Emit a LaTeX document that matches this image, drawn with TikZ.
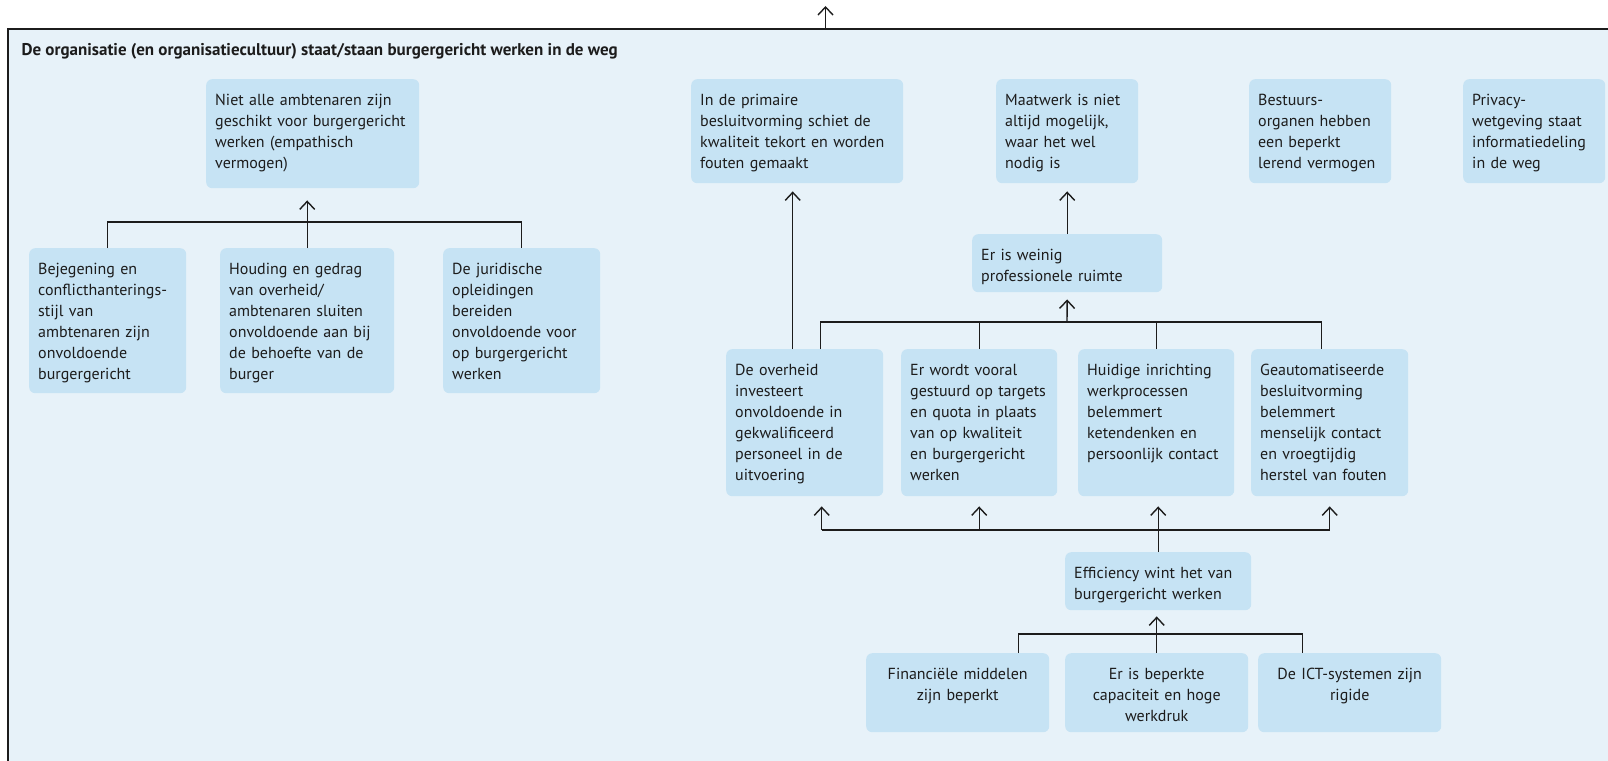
\documentclass[tikz,border=0pt]{standalone}
\usepackage{fontspec}
\setmainfont{PT Sans}
\usepackage{xcolor}
\usepackage{tikz}
\usetikzlibrary{arrows.meta,positioning,calc}
\definecolor{panelblue}{HTML}{E7F2F9}
\definecolor{boxblue}{HTML}{C6E3F4}
\definecolor{inkblack}{HTML}{1C1C1C}

\begin{document}
\begin{tikzpicture}[
    x=1pt,y=-1pt,
    >={Straight Barb[length=8pt,width=15pt]},
    every node/.style={font=\fontsize{16}{21}\selectfont,text=inkblack},
    cause/.style={fill=boxblue,rounded corners=6pt,anchor=north west,
                  inner xsep=9pt,inner ysep=0pt,align=left,text height=26pt},
    causec/.style={cause,align=center},
    link/.style={draw=inkblack,line width=1.4pt},
  ]
  \useasboundingbox (0,0) rectangle (1608,760);
  \node[fill=panelblue,minimum width=1610pt,minimum height=740pt,
        anchor=north west,inner sep=0pt] (panel) at (8,29) {};
  \draw[inkblack,line width=2pt] (panel.south west) -- (panel.north west) -- (panel.north east);
  \coordinate (out) at (825.5,6);
  \draw[link,->] (out |- panel.north) -- (out);

  \node[anchor=base west,font=\fontsize{17}{21}\selectfont\bfseries] (title) at (18,56)
    {De organisatie (en organisatiecultuur) staat/staan burgergericht werken in de weg};

  % linker tak
  \node[cause,text width=195pt,text depth=83pt] (niet) at (206,79)
    {Niet alle ambtenaren zijn\\geschikt voor burgergericht\\werken (empathisch\\vermogen)};
  \node[cause,text width=139pt,text depth=119pt] (bej) at (29,248)
    {Bejegening en\\conflicthanterings-\\stijl van\\ambtenaren zijn\\onvoldoende\\burgergericht};
  \node[cause,text width=156pt,text depth=119pt] (houd) at (220,248)
    {Houding en gedrag\\van overheid/\\ambtenaren sluiten\\onvoldoende aan bij\\de behoefte van de\\burger};
  \node[cause,text width=139pt,text depth=119pt] (jur) at (443,248)
    {De juridische\\opleidingen\\bereiden\\onvoldoende voor\\op burgergericht\\werken};

  % rechter tak
  \node[cause,text width=194pt,text depth=78pt] (prim) at (691,79)
    {In de primaire\\besluitvorming schiet de\\kwaliteit tekort en worden\\fouten gemaakt};
  \node[cause,text width=124pt,text depth=78pt] (maat) at (996,79)
    {Maatwerk is niet\\altijd mogelijk,\\waar het wel\\nodig is};
  \node[cause,text width=124pt,text depth=78pt] (best) at (1249,79)
    {Bestuurs-\\organen hebben\\een beperkt\\lerend vermogen};
  \node[cause,text width=124pt,text depth=78pt] (priv) at (1463,79)
    {Privacy-\\wetgeving staat\\informatiedeling\\in de weg};
  \node[cause,text width=172pt,text depth=32pt] (wein) at (972,234)
    {Er is weinig\\professionele ruimte};

  \node[cause,text width=139pt,text depth=121pt] (ovh) at (726,349)
    {De overheid\\investeert\\onvoldoende in\\gekwalificeerd\\personeel in de\\uitvoering};
  \node[cause,text width=138pt,text depth=121pt] (wvo) at (901,349)
    {Er wordt vooral\\\mbox{gestuurd op targets}\\en quota in plaats\\van op kwaliteit\\en burgergericht\\werken};
  \node[cause,text width=138pt,text depth=121pt] (hui) at (1078,349)
    {Huidige inrichting\\werkprocessen\\belemmert\\ketendenken en\\persoonlijk contact};
  \node[cause,text width=139pt,text depth=121pt] (gea) at (1251,349)
    {Geautomatiseerde\\besluitvorming\\belemmert\\menselijk contact\\en vroegtijdig\\herstel van fouten};

  \node[cause,text width=168pt,text depth=32pt] (eff) at (1065,552)
    {Efficiency wint het van\\burgergericht werken};
  \node[causec,text width=165pt,text depth=53pt] (fin) at (866,653)
    {Financiële middelen\\zijn beperkt};
  \node[causec,text width=165pt,text depth=53pt] (bep) at (1065,653)
    {Er is beperkte\\capaciteit en hoge\\werkdruk};
  \node[causec,text width=165pt,text depth=53pt] (ict) at (1258,653)
    {De ICT-systemen zijn\\rigide};

  % verbindingen links
  \coordinate (jL) at (307,222);
  \draw[link] (bej.north) |- (jL) -| (jur.north);
  \draw[link,->,shorten >=12pt] (houd.north) -- (houd.north |- niet.south);

  % verbindingen rechts
  \coordinate (ovhL) at ([xshift=-12pt]ovh.north);
  \coordinate (ovhR) at ([xshift=15.5pt]ovh.north);
  \coordinate (ovhB) at ([xshift=17pt]ovh.south);
  \coordinate (geaL) at ([xshift=-8.5pt]gea.north);
  \draw[link,->,shorten >=8pt] (ovhL) -- (ovhL |- prim.south);

  \coordinate (jT) at (1067,322);
  \draw[link] (ovhR) |- (jT) -| (geaL);
  \draw[link] (wvo.north) -- (wvo.north |- jT);
  \draw[link] (hui.north) -- (hui.north |- jT);
  \draw[link,->,shorten >=7pt] (jT) -- (wein.south);
  \draw[link,->,shorten >=8pt] (wein.north) -- (maat.south);

  \coordinate (jM) at (1156,530);
  \draw[link] (ovhB |- jM) -- (gea.south |- jM);
  \draw[link,->,shorten >=10pt] (ovhB |- jM) -- (ovhB);
  \draw[link,->,shorten >=10pt] (wvo.south |- jM) -- (wvo.south);
  \draw[link,->,shorten >=10pt] (gea.south |- jM) -- (gea.south);
  \draw[link,->,shorten >=10pt] (eff.north) -- (eff.north |- hui.south);

  \coordinate (finR) at ([xshift=60.5pt]fin.north);
  \coordinate (ictL) at ([xshift=-47.5pt]ict.north);
  \coordinate (jB) at (1156,634);
  \draw[link] (finR) |- (jB) -| (ictL);
  \draw[link,->,shorten >=6pt] (bep.north) -- (bep.north |- eff.south);
\end{tikzpicture}
\end{document}
